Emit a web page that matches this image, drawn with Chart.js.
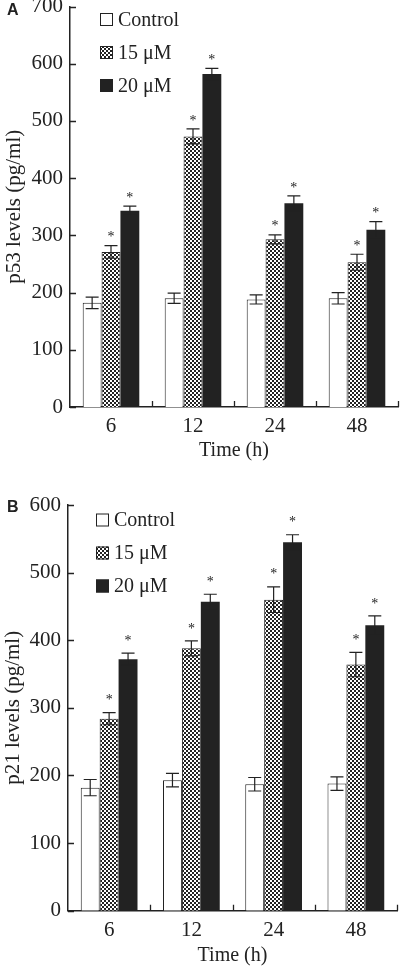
<!DOCTYPE html>
<html><head><meta charset="utf-8">
<script src="https://cdn.jsdelivr.net/npm/chart.js@4/dist/chart.umd.min.js"></script>
<style>
html,body{margin:0;padding:0;background:#fff;overflow:hidden;width:400px;height:966px;}
#wa{position:absolute;left:0;top:0;width:400px;height:480px;}
#wb{position:absolute;left:0;top:480px;width:400px;height:486px;}
</style></head><body>
<div id="wa"><canvas id="ca"></canvas></div>
<div id="wb"><canvas id="cb"></canvas></div>
<script>
// ---- data ----
const categories = ['6', '12', '24', '48'];
const seriesNames = ['Control', '15 μM', '20 μM'];
const starred = [false, true, true];

const p53Control = [182, 190, 188, 190];
const p53ControlErr = [10, 9, 8, 10];
const p53Low = [271, 473, 293, 253];
const p53LowErr = [11, 13, 8, 14];
const p53High = [343, 582, 356, 310];
const p53HighErr = [8, 10, 13, 14];

const p21Control = [182, 193, 187, 188];
const p21ControlErr = [12, 10, 10, 10];
const p21Low = [284, 388, 460, 364];
const p21LowErr = [9, 11, 19, 18];
const p21High = [372, 457, 545, 422];
const p21HighErr = [9, 11, 11, 14];

const yTicksA = {min: 0, max: 700, step: 100};
const yTicksB = {min: 0, max: 600, step: 100};

// ---- styling ----
const INK = '#222';
const SERIF = 'Liberation Serif';

function checker(ctx) {
  const c = document.createElement('canvas');
  c.width = 4; c.height = 4;
  const g = c.getContext('2d');
  g.fillStyle = '#fff'; g.fillRect(0, 0, 4, 4);
  g.fillStyle = INK; g.fillRect(0, 0, 2, 2); g.fillRect(2, 2, 2, 2);
  return ctx.createPattern(c, 'repeat');
}

const decor = {
  id: 'decor',
  afterDatasetsDraw(chart, args, o) {
    const ctx = chart.ctx, x = chart.scales.x, y = chart.scales.y, ca = chart.chartArea;
    ctx.save();
    ctx.strokeStyle = INK; ctx.fillStyle = INK; ctx.lineWidth = 1.2;
    // error bars + stars
    chart.data.datasets.forEach((ds, d) => {
      const meta = chart.getDatasetMeta(d);
      ds.data.forEach((v, i) => {
        const e = ds.err[i];
        const bx = meta.data[i].x;
        const yt = y.getPixelForValue(v + e), yb = y.getPixelForValue(v - e);
        ctx.beginPath();
        ctx.moveTo(bx, yt); ctx.lineTo(bx, yb);
        ctx.moveTo(bx - 6.5, yt); ctx.lineTo(bx + 6.5, yt);
        ctx.moveTo(bx - 6.5, yb); ctx.lineTo(bx + 6.5, yb);
        ctx.stroke();
        if (starred[d]) {
          ctx.font = '14px "' + SERIF + '"';
          ctx.textAlign = 'center'; ctx.textBaseline = 'middle';
          ctx.fillText('*', bx, yt - o.starGap + 3);
        }
      });
    });
    // inward ticks
    ctx.lineWidth = 1.3;
    ctx.beginPath();
    y.ticks.forEach(t => {
      const py = Math.round(y.getPixelForValue(t.value)) + 0.5;
      ctx.moveTo(ca.left, py); ctx.lineTo(ca.left + 6, py);
    });
    for (let k = 0; k < categories.length; k++) {
      const px = Math.round(x.getPixelForValue(k + 0.5)) + 0.5;
      ctx.moveTo(px, ca.bottom); ctx.lineTo(px, ca.bottom - 6);
    }
    ctx.stroke();
    // legend
    ctx.font = '20px "' + SERIF + '"';
    ctx.textAlign = 'left'; ctx.textBaseline = 'middle';
    chart.data.datasets.forEach((ds, d) => {
      const lx = ca.left + o.legX, ly = ca.top + o.legY + d * 33;
      ctx.fillStyle = ds.backgroundColor;
      ctx.fillRect(lx, ly - 6.5, 13, 13);
      ctx.lineWidth = 1;
      ctx.strokeStyle = INK;
      ctx.strokeRect(lx + 0.5, ly - 6, 12, 12);
      ctx.fillStyle = INK;
      ctx.fillText(ds.label, lx + 18, ly + 1);
    });
    // panel letter
    ctx.font = 'bold 16px "Liberation Sans"';
    ctx.textAlign = 'left'; ctx.textBaseline = 'alphabetic';
    ctx.fillText(o.letter, 7, o.letterY);
    ctx.restore();
  }
};

function makeChart(id, c) {
  const ctx = document.getElementById(id).getContext('2d');
  const fills = ['#fff', checker(ctx), INK];
  const datasets = c.values.map((vals, d) => ({
    label: seriesNames[d],
    data: vals,
    err: c.errs[d],
    backgroundColor: fills[d],
    borderColor: INK,
    borderWidth: d === 2 ? 0 : 1,
    barPercentage: 1,
    categoryPercentage: 0.69
  }));
  return new Chart(ctx, {
    type: 'bar',
    data: {labels: categories, datasets},
    options: {
      responsive: true, maintainAspectRatio: false, animation: false,
      layout: {padding: {top: c.padTop, right: c.padRight, left: 0, bottom: 0}},
      plugins: {legend: {display: false}, tooltip: {enabled: false}, decor: c.decor},
      scales: {
        x: {
          offset: true,
          grid: {display: false, drawTicks: false},
          border: {display: true, color: INK, width: 1.5},
          ticks: {padding: c.xPad, color: INK, font: {family: SERIF, size: 21}},
          title: {display: true, text: 'Time (h)', color: INK,
                  font: {family: SERIF, size: 20, lineHeight: 1},
                  padding: {top: 0, bottom: c.xTitlePad}},
          afterFit(s) { s.height = c.xHeight; s.paddingLeft = 0; s.paddingRight = 0; }
        },
        y: {
          min: c.ticks.min, max: c.ticks.max,
          grid: {display: false, drawTicks: false},
          border: {display: true, color: INK, width: 1.5},
          ticks: {stepSize: c.ticks.step, padding: 7, color: INK, font: {family: SERIF, size: 21}},
          title: {display: true, text: c.yTitle, color: INK,
                  font: {family: SERIF, size: 21, lineHeight: 1},
                  padding: {top: c.yTitlePad, bottom: 0}},
          afterFit(s) { s.width = c.yWidth; s.paddingTop = 0; s.paddingBottom = 0; }
        }
      }
    },
    plugins: [decor]
  });
}

makeChart('ca', {
  values: [p53Control, p53Low, p53High],
  errs: [p53ControlErr, p53LowErr, p53HighErr],
  ticks: yTicksA, yTitle: 'p53 levels (pg/ml)',
  padTop: 6.5, padRight: 2, xHeight: 73, yWidth: 70, xPad: 6.5, xTitlePad: 19, yTitlePad: 4,
  decor: {starGap: 11, legX: 30, legY: 13, letter: 'A', letterY: 14.5}
});
makeChart('cb', {
  values: [p21Control, p21Low, p21High],
  errs: [p21ControlErr, p21LowErr, p21HighErr],
  ticks: yTicksB, yTitle: 'p21 levels (pg/ml)',
  padTop: 25, padRight: 3, xHeight: 55.3, yWidth: 68, xPad: 7.5, xTitlePad: 0, yTitlePad: 2.5,
  decor: {starGap: 15, legX: 28, legY: 15, letter: 'B', letterY: 32}
});
</script>
</body></html>
